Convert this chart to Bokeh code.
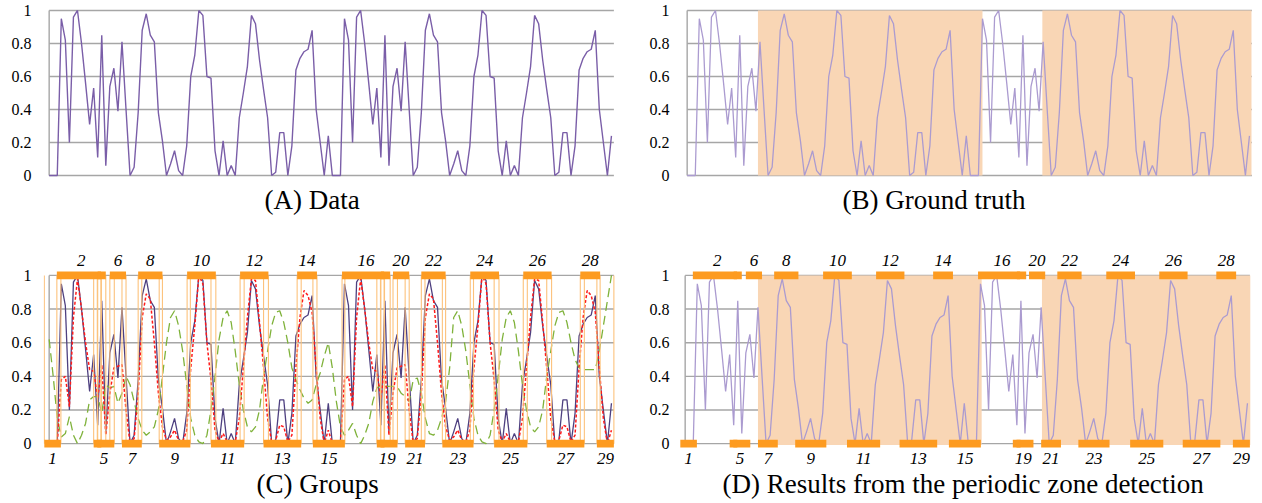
from bokeh.plotting import figure
from bokeh.layouts import column, row
from bokeh.models import FixedTicker
from bokeh.core.properties import value
from bokeh.embed import file_html
from bokeh.resources import INLINE

# ---------------- data ----------------
data = [0, 0, 0, 0.95, 0.82, 0.2, 0.96, 1.0, 0.8, 0.56,
        0.31, 0.53, 0.11, 0.85, 0.06, 0.54, 0.65, 0.39, 0.81, 0.4,
        0, 0.05, 0.38, 0.88, 0.98, 0.85, 0.81, 0.38, 0.21, 0,
        0.07, 0.15, 0.03, 0, 0.18, 0.6, 0.73, 1.0, 0.97, 0.6,
        0.59, 0.15, 0, 0.21, 0, 0.06, 0, 0.35, 0.5, 0.66,
        0.97, 0.92, 0.7, 0.52, 0.35, 0, 0.02, 0.26, 0.26, 0,
        0.18, 0.64, 0.71, 0.75, 0.765, 0.88, 0.4, 0.2, 0, 0.24,
        0, 0, 0, 0.95, 0.82, 0.2, 0.96, 1.0, 0.8, 0.56,
        0.31, 0.53, 0.11, 0.85, 0.06, 0.54, 0.65, 0.39, 0.81, 0.4,
        0, 0.05, 0.38, 0.88, 0.98, 0.85, 0.81, 0.38, 0.21, 0,
        0.07, 0.15, 0.03, 0, 0.18, 0.6, 0.73, 1.0, 0.97, 0.6,
        0.59, 0.15, 0, 0.21, 0, 0.06, 0, 0.35, 0.5, 0.66,
        0.97, 0.92, 0.7, 0.52, 0.35, 0, 0.02, 0.26, 0.26, 0,
        0.18, 0.64, 0.71, 0.75, 0.765, 0.88, 0.4, 0.2, 0, 0.24]

smoothed = [0, 0, 0, 0.38, 0.40, 0.22, 0.75, 0.98, 0.8, 0.6,
            0.44, 0.43, 0.27, 0.47, 0.05, 0.3, 0.45, 0.46, 0.47, 0.2,
            0, 0.03, 0.3, 0.75, 0.89, 0.86, 0.6, 0.3, 0.1, 0.02,
            0.04, 0.08, 0.02, 0.01, 0.08, 0.45, 0.7, 1.0, 0.95, 0.6,
            0.38, 0.08, 0.01, 0.06, 0.01, 0.02, 0.01, 0.15, 0.45, 0.75,
            0.98, 0.97, 0.72, 0.45, 0.15, 0.01, 0.02, 0.11, 0.1, 0.01,
            0.05, 0.45, 0.75, 0.91, 0.88, 0.78, 0.45, 0.15, 0.0, 0.08,
            0, 0, 0, 0.38, 0.40, 0.22, 0.75, 0.98, 0.8, 0.6,
            0.44, 0.43, 0.27, 0.47, 0.05, 0.3, 0.45, 0.46, 0.47, 0.2,
            0, 0.03, 0.3, 0.75, 0.89, 0.86, 0.6, 0.3, 0.1, 0.02,
            0.04, 0.08, 0.02, 0.01, 0.08, 0.45, 0.7, 1.0, 0.95, 0.6,
            0.38, 0.08, 0.01, 0.06, 0.01, 0.02, 0.01, 0.15, 0.45, 0.75,
            0.98, 0.97, 0.72, 0.45, 0.15, 0.01, 0.02, 0.11, 0.1, 0.01,
            0.05, 0.45, 0.75, 0.91, 0.88, 0.78, 0.45, 0.15, 0.0, 0.08]

template = [0.62, 0.4, 0.15, 0.04, 0.06, 0.16, 0.05, 0.0, 0.05, 0.12,
            0.26, 0.28, 0.28, 0.18, 0.35, 0.33, 0.34, 0.24, 0.3, 0.4,
            0.35, 0.25, 0.15, 0.08, 0.05, 0.07, 0.1, 0.2, 0.4, 0.6,
            0.75, 0.79, 0.7, 0.55, 0.35, 0.15, 0.05, 0.01, 0.0, 0.05,
            0.2, 0.4, 0.62, 0.75, 0.79, 0.72, 0.55, 0.35, 0.2, 0.1,
            0.07, 0.1, 0.2, 0.4, 0.55, 0.7, 0.78, 0.79, 0.72, 0.6,
            0.45, 0.38, 0.32, 0.27, 0.24, 0.26, 0.35, 0.42, 0.52, 0.6,
            0.45, 0.25, 0.1, 0.05, 0.08, 0.12, 0.05, 0.0, 0.05, 0.12,
            0.25, 0.33, 0.35, 0.34, 0.34, 0.34, 0.34, 0.3, 0.28, 0.25,
            0.38, 0.39, 0.3, 0.15, 0.06, 0.05, 0.08, 0.15, 0.25, 0.45,
            0.75, 0.79, 0.7, 0.55, 0.35, 0.15, 0.05, 0.01, 0.0, 0.05,
            0.2, 0.4, 0.62, 0.75, 0.79, 0.72, 0.55, 0.35, 0.2, 0.1,
            0.07, 0.1, 0.2, 0.4, 0.55, 0.7, 0.78, 0.79, 0.72, 0.6,
            0.5, 0.45, 0.44, 0.44, 0.44, 0.44, 0.55, 0.7, 0.85, 1.0]

group_ids = list(range(1, 30))
group_start = [-1.2, 1.9, 11.9, 12.0, 11.0, 15.0, 18.0, 22.0, 27.2, 34.1,
               40.0, 47.2, 53.0, 61.3, 65.2, 72.4, 81.9, 82.0, 81.0, 85.0,
               88.0, 92.0, 97.2, 104.1, 110.0, 117.2, 123.0, 131.3, 135.4]
group_end = [2.9, 14.0, 12.9, 12.8, 16.1, 19.0, 22.9, 28.0, 34.9, 41.2,
             48.2, 54.2, 62.3, 66.2, 73.1, 84.3, 82.9, 82.8, 86.1, 89.0,
             92.9, 98.0, 104.9, 111.2, 118.2, 124.2, 132.3, 136.2, 139.6]
hidden_labels = [3, 4, 17, 18]

truth_start = [17.5, 87.8]
truth_end = [73.0, 139.5]
detected_start = [18.0, 88.2]
detected_end = [73.3, 139.7]

y_ticks = [0, 0.2, 0.4, 0.6, 0.8, 1]
y_tick_labels = ["0", "0.2", "0.4", "0.6", "0.8", "1"]
captions = ["(A) Data", "(B) Ground truth", "(C) Groups",
            "(D) Results from the periodic zone detection"]

# ---------------- styling ----------------
SERIF = "Liberation Serif"
GRID = "#a6a6a6"
ORANGE = "#fd9b20"
ORANGE_LIGHT = "#fcc27c"
SHADE = "#f9d6b5"
PURPLE = "#7a5ea8"
PURPLE_DARK = "#4e4080"
PURPLE_LIGHT = "#ab9bd0"

x = list(range(len(data)))
X_RANGE = (-1.4, 140.0)


def base(fh, yr, bl, br, bt, bb, caption, cap_off, cap_standoff, standoff):
    p = figure(frame_width=572, frame_height=fh, x_range=X_RANGE, y_range=yr,
               output_backend="svg", toolbar_location=None,
               min_border_left=bl, min_border_right=br,
               min_border_top=bt, min_border_bottom=bb,
               title=caption, title_location="below")
    p.title.align = "left"
    p.title.offset = cap_off
    p.title.standoff = cap_standoff
    p.title.text_font = SERIF
    p.title.text_font_size = "27px"
    p.title.text_font_style = "normal"
    p.title.text_color = "black"
    p.xaxis.visible = False
    p.xgrid.visible = False
    p.ygrid.visible = False
    p.outline_line_color = None
    p.background_fill_color = None
    p.border_fill_color = None
    ya = p.yaxis[0]
    ya.ticker = FixedTicker(ticks=y_ticks)
    ya.major_label_overrides = dict(zip(y_ticks, y_tick_labels))
    ya.axis_line_color = None
    ya.major_tick_line_color = None
    ya.minor_tick_line_color = None
    ya.major_tick_out = 0
    ya.major_tick_in = 0
    ya.major_label_standoff = standoff
    ya.major_label_text_font = SERIF
    ya.major_label_text_font_size = "16px"
    ya.major_label_text_color = "black"
    return p


def grid(p, axis=True):
    p.segment(x0=[0] * len(y_ticks), x1=[139.6] * len(y_ticks), y0=y_ticks, y1=y_ticks,
              line_color=GRID, line_width=1.4)
    if axis:
        p.segment(x0=[0], x1=[0], y0=[y_ticks[0]], y1=[y_ticks[-1]], line_color=GRID, line_width=1.4)


def bars(p):
    top_s = [s for g, s in zip(group_ids, group_start) if g % 2 == 0]
    top_e = [e for g, e in zip(group_ids, group_end) if g % 2 == 0]
    bot_s = [s for g, s in zip(group_ids, group_start) if g % 2 == 1]
    bot_e = [e for g, e in zip(group_ids, group_end) if g % 2 == 1]
    h = 0.023
    p.quad(left=top_s, right=top_e, bottom=1 - h, top=1 + h, fill_color=ORANGE, line_color=None)
    p.quad(left=bot_s, right=bot_e, bottom=-h, top=h, fill_color=ORANGE, line_color=None)
    lt_x, lt_t, lb_x, lb_t = [], [], [], []
    for g, s, e in zip(group_ids, group_start, group_end):
        if g in hidden_labels:
            continue
        cx = (s + e) / 2
        if g % 2 == 0:
            lt_x.append(cx); lt_t.append(str(g))
        else:
            lb_x.append(cx); lb_t.append(str(g))
    p.text(x=lt_x, y=[1.088] * len(lt_x), text=lt_t, text_font=value(SERIF),
           text_font_style="italic", text_font_size="17px", text_align="center",
           text_baseline="middle", text_color="black")
    p.text(x=lb_x, y=[-0.088] * len(lb_x), text=lb_t, text_font=value(SERIF),
           text_font_style="italic", text_font_size="17px", text_align="center",
           text_baseline="middle", text_color="black")


YR1 = (-0.012, 1.012)
YR2 = (-0.13, 1.16)

# ---- (A) ----
pa = base(169, YR1, 43, 31, 8, 61, captions[0], 221, 11, 12)
grid(pa)
pa.line(x, data, line_color=PURPLE, line_width=1.4)

# ---- (B) ----
pb = base(169, YR1, 35, 5, 8, 61, captions[1], 161, 11, 12)
grid(pb)
pb.quad(left=truth_start, right=truth_end, bottom=0, top=1, fill_color=SHADE, line_color=None)
pb.line(x, data, line_color=PURPLE_LIGHT, line_width=1.3)

# ---- (C) ----
pc = base(217, YR2, 43, 31, 10, 36, captions[2], 213, 2, 12)
grid(pc)
pc.line(x, data, line_color=PURPLE_DARK, line_width=1.3)
pc.line(x, template, line_color="#7fb23a", line_width=1.3, line_dash="9 5")
pc.line(x, smoothed, line_color="#ff1a1a", line_width=1.5, line_dash="3 2")
edges = group_start + group_end
pc.segment(x0=edges, x1=edges, y0=[0] * len(edges), y1=[1] * len(edges),
           line_color=ORANGE_LIGHT, line_width=1.1)
bars(pc)

# ---- (D) ----
pd_ = base(217, YR2, 33, 5, 10, 36, captions[3], 43, 2, 10)
grid(pd_)
pd_.quad(left=detected_start, right=detected_end, bottom=-0.008, top=1, fill_color=SHADE, line_color=None)
pd_.line(x, data, line_color=PURPLE_LIGHT, line_width=1.3)
bars(pd_)

layout = column(row(pa, pb), row(pc, pd_))
open("out.html", "w").write(file_html(layout, INLINE))
